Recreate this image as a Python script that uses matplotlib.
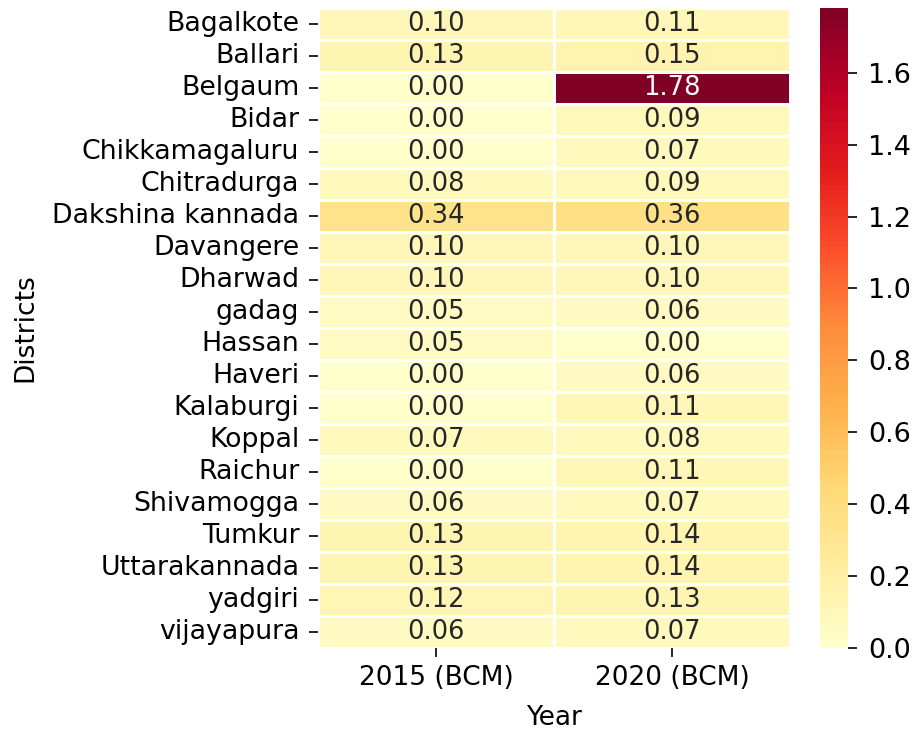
import matplotlib
matplotlib.use("Agg")
import matplotlib.pyplot as plt
import seaborn as sns
import numpy as np
import pandas as pd

districts = ["Bagalkote", "Ballari", "Belgaum", "Bidar", "Chikkamagaluru", "Chitradurga",
             "Dakshina kannada", "Davangere", "Dharwad", "gadag", "Hassan", "Haveri",
             "Kalaburgi", "Koppal", "Raichur", "Shivamogga", "Tumkur", "Uttarakannada",
             "yadgiri", "vijayapura"]
years = ["2015 (BCM)", "2020 (BCM)"]
v2015 = [0.10, 0.13, 0.00, 0.00, 0.00, 0.08, 0.34, 0.10, 0.10, 0.05, 0.05, 0.00,
         0.00, 0.07, 0.00, 0.06, 0.13, 0.13, 0.12, 0.06]
v2020 = [0.11, 0.15, 1.78, 0.09, 0.07, 0.09, 0.36, 0.10, 0.10, 0.06, 0.00, 0.06,
         0.11, 0.08, 0.11, 0.07, 0.14, 0.14, 0.13, 0.07]

df = pd.DataFrame({years[0]: v2015, years[1]: v2020}, index=districts)

FS = 18.5
fig = plt.figure(figsize=(9.14, 7.32), dpi=100)
ax = fig.add_axes([318/914, 84/732, 472/914, 640/732])
cax = fig.add_axes([820/914, 84/732, 28/914, 640/732])
sns.heatmap(df, ax=ax, cbar_ax=cax, cmap="YlOrRd", annot=True, fmt=".2f",
            linewidths=1.0, linecolor="white", annot_kws={"fontsize": FS})
ax.set_xlabel("Year", fontsize=19, labelpad=10)
ax.set_ylabel("Districts", fontsize=19, labelpad=10)
ax.tick_params(axis="x", labelsize=19, length=6.5, width=1.2, pad=6)
ax.tick_params(axis="y", labelsize=19.3, length=6.5, width=1.2, pad=7)
ax.set_yticklabels(districts, rotation=0)
cax.tick_params(labelsize=19.5, length=6.5, width=1.2, pad=8)
for sp in cax.spines.values():
    sp.set_visible(False)
fig.savefig("out.png", dpi=100)
